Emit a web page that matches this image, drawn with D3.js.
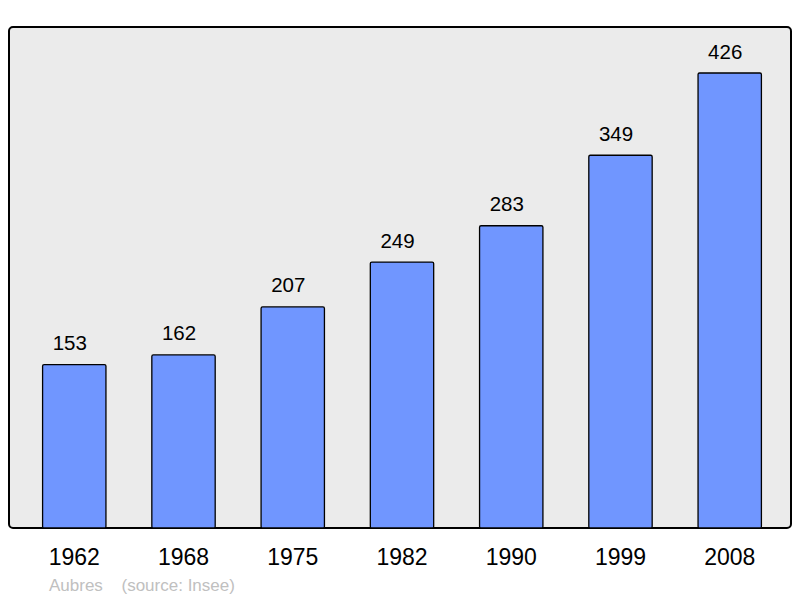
<!DOCTYPE html>
<html>
<head>
<meta charset="utf-8">
<script src="https://cdn.jsdelivr.net/npm/d3@7"></script>
<style>
  body { margin: 0; background: #fff; }
  text { font-family: "Liberation Sans", Arial, sans-serif; }
</style>
</head>
<body>
<div id="chart"></div>
<script>
// population of Aubres, by census year
let years = ["1962", "1968", "1975", "1982", "1990", "1999", "2008"];
let population = [153, 162, 207, 249, 283, 349, 426];
let place = "Aubres";
let source = "(source: Insee)";

function main() {
    let w = 800, h = 598;
    let svg = d3.select("#chart").append("svg")
        .attr("width", w)
        .attr("height", h);

    let frame = {left: 9, top: 27, right: 791, bottom: 528};

    svg.append("rect")
        .attr("x", frame.left)
        .attr("y", frame.top)
        .attr("width", frame.right - frame.left)
        .attr("height", frame.bottom - frame.top)
        .attr("rx", 4)
        .attr("fill", "#ebebeb")
        .attr("stroke", "#000")
        .attr("stroke-width", 2);

    let x = d3.scaleBand()
        .domain(years)
        .range([12, 792])
        .paddingInner(0.42)
        .paddingOuter(0.28);

    let y = d3.scaleLinear()
        .domain([0, 426 * 501 / 455])
        .range([frame.bottom, frame.top]);

    let data = years.map((yr, i) => ({year: yr, value: population[i]}));

    let bars = svg.selectAll("g.bar")
        .data(data)
        .enter().append("g")
        .attr("class", "bar");

    bars.append("rect")
        .attr("x", d => x(d.year))
        .attr("y", d => y(d.value))
        .attr("width", x.bandwidth())
        .attr("height", d => frame.bottom - y(d.value))
        .attr("rx", 1.5)
        .attr("fill", "#7096ff")
        .attr("stroke", "#000")
        .attr("stroke-width", 1.3);

    bars.append("text")
        .text(d => d.value)
        .attr("x", d => x(d.year) + x.bandwidth() / 2 - 4.5)
        .attr("y", d => y(d.value) - 14.5)
        .attr("text-anchor", "middle")
        .attr("font-size", 20.5)
        .attr("fill", "#000");

    // year labels under the frame
    svg.selectAll("text.year")
        .data(years)
        .enter().append("text")
        .attr("class", "year")
        .text(d => d)
        .attr("x", d => x(d) + x.bandwidth() / 2)
        .attr("y", 564.5)
        .attr("text-anchor", "middle")
        .attr("font-size", 23)
        .attr("fill", "#000");

    svg.append("text")
        .text(place)
        .attr("x", 49)
        .attr("y", 590.5)
        .attr("font-size", 17)
        .attr("fill", "#c0c0c0");

    svg.append("text")
        .text(source)
        .attr("x", 121.5)
        .attr("y", 590.5)
        .attr("font-size", 17)
        .attr("fill", "#c0c0c0");
}

main();
</script>
</body>
</html>
